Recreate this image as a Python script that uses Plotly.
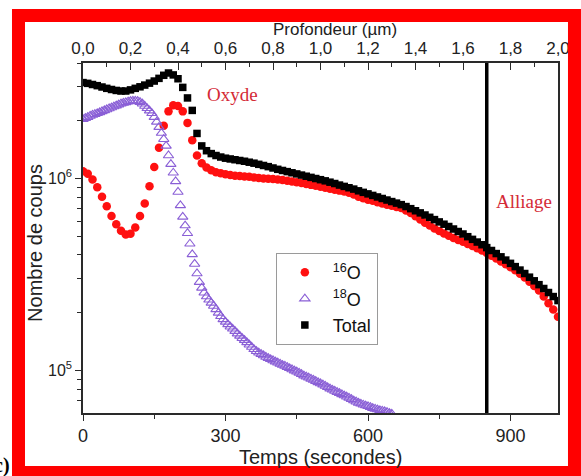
import plotly.graph_objects as go

# ---------------- data ----------------
# time axis (s) for 16O and Total, every 10 s
time_main = list(range(0, 1001, 10))
# log10(counts) for 16O
o16_log10 = [
    6.038, 6.025, 5.995, 5.955, 5.905, 5.855, 5.805, 5.762, 5.728, 5.708,
    5.712, 5.745, 5.805, 5.870, 5.960, 6.060, 6.160, 6.275, 6.350, 6.382,
    6.378, 6.350, 6.290, 6.200, 6.120, 6.080, 6.058, 6.043, 6.033, 6.027,
    6.022, 6.018, 6.015, 6.013, 6.011, 6.009, 6.006, 6.003, 6.000, 5.999,
    5.998, 5.995, 5.992, 5.988, 5.985, 5.981, 5.977, 5.972, 5.967, 5.962,
    5.957, 5.952, 5.947, 5.942, 5.937, 5.932, 5.926, 5.917, 5.905, 5.897,
    5.890, 5.884, 5.877, 5.870, 5.864, 5.858, 5.852, 5.846, 5.834, 5.820,
    5.803, 5.787, 5.770, 5.755, 5.740, 5.727, 5.714, 5.702, 5.690, 5.680,
    5.670, 5.659, 5.648, 5.637, 5.625, 5.612, 5.598, 5.583, 5.568, 5.553,
    5.538, 5.522, 5.504, 5.484, 5.462, 5.440, 5.416, 5.385, 5.350, 5.318,
    5.280,
]
# log10(counts) for Total
total_log10 = [
    6.500, 6.496, 6.490, 6.484, 6.477, 6.470, 6.464, 6.459, 6.456, 6.456,
    6.462, 6.470, 6.478, 6.487, 6.497, 6.508, 6.522, 6.538, 6.550, 6.540,
    6.520, 6.475, 6.420, 6.355, 6.235, 6.170, 6.145, 6.130, 6.120, 6.112,
    6.106, 6.102, 6.098, 6.094, 6.090, 6.085, 6.080, 6.074, 6.068, 6.062,
    6.055, 6.048, 6.042, 6.036, 6.030, 6.024, 6.018, 6.012, 6.006, 6.000,
    5.994, 5.988, 5.981, 5.974, 5.966, 5.959, 5.952, 5.945, 5.936, 5.928,
    5.920, 5.912, 5.904, 5.896, 5.888, 5.880, 5.872, 5.864, 5.854, 5.843,
    5.832, 5.821, 5.810, 5.798, 5.786, 5.774, 5.762, 5.750, 5.737, 5.724,
    5.711, 5.697, 5.683, 5.669, 5.655, 5.640, 5.625, 5.609, 5.592, 5.575,
    5.558, 5.541, 5.523, 5.505, 5.486, 5.467, 5.447, 5.427, 5.406, 5.385,
    5.364,
]
# time axis (s) for 18O, every 5 s
time_o18 = list(range(0, 651, 5))
o18_log10 = [
    6.309, 6.315, 6.320, 6.326, 6.331, 6.335, 6.340, 6.345, 6.350, 6.355,
    6.360, 6.365, 6.370, 6.375, 6.380, 6.385, 6.390, 6.394, 6.397, 6.400,
    6.403, 6.405, 6.405, 6.403, 6.398, 6.390, 6.378, 6.366, 6.354, 6.340,
    6.320, 6.295, 6.268, 6.237, 6.205, 6.170, 6.120, 6.075, 6.030, 5.985,
    5.930, 5.860, 5.800, 5.755, 5.715, 5.660, 5.605, 5.555, 5.505, 5.460,
    5.430, 5.405, 5.385, 5.368, 5.352, 5.336, 5.318, 5.300, 5.282, 5.266,
    5.253, 5.240, 5.228, 5.217, 5.205, 5.192, 5.180, 5.168, 5.158, 5.146,
    5.134, 5.122, 5.110, 5.100, 5.092, 5.085, 5.078, 5.070, 5.064, 5.058,
    5.052, 5.046, 5.040, 5.034, 5.028, 5.023, 5.017, 5.011, 5.005, 4.999,
    4.993, 4.987, 4.980, 4.973, 4.967, 4.962, 4.956, 4.950, 4.944, 4.938,
    4.932, 4.926, 4.919, 4.912, 4.905, 4.899, 4.893, 4.887, 4.881, 4.875,
    4.869, 4.863, 4.857, 4.850, 4.843, 4.837, 4.831, 4.826, 4.821, 4.817,
    4.813, 4.808, 4.803, 4.799, 4.796, 4.792, 4.789, 4.786, 4.782, 4.778,
    4.774,
]

interface_time = 850            # oxide / alloy interface (s)
time_range = [0, 1000]
depth_range = [0, 2.0]          # µm
count_range = [6e4, 4e6]

time_ticks = [0, 300, 600, 900]
time_minor = [150, 450, 750]
depth_ticks = [0.0, 0.2, 0.4, 0.6, 0.8, 1.0, 1.2, 1.4, 1.6, 1.8, 2.0]
depth_labels = ["0,0", "0,2", "0,4", "0,6", "0,8", "1,0", "1,2", "1,4", "1,6", "1,8", "2,0"]
depth_minor = [0.1, 0.3, 0.5, 0.7, 0.9, 1.1, 1.3, 1.5, 1.7, 1.9]
count_ticks = [1e5, 1e6]
count_labels = ["10<sup>5</sup>", "10<sup>6</sup>"]
count_minor = [7e4, 8e4, 9e4, 2e5, 3e5, 4e5, 5e5, 6e5, 7e5, 8e5, 9e5, 2e6, 3e6, 4e6]

# ---------------- figure ----------------
SANS = "Liberation Sans, Arial, sans-serif"
SERIF = "Liberation Serif, Times New Roman, serif"
AX = "#2a2a2a"

o16 = [10 ** v for v in o16_log10]
o18 = [10 ** v for v in o18_log10]
tot = [10 ** v for v in total_log10]

fig = go.Figure()
fig.add_trace(go.Scatter(
    x=time_main, y=o16, mode="markers", name="<sup>16</sup>O",
    marker=dict(symbol="circle", size=8.5, color="#ff1010", line=dict(width=0)),
))
fig.add_trace(go.Scatter(
    x=time_o18, y=o18, mode="markers", name="<sup>18</sup>O",
    marker=dict(symbol="triangle-up-open", size=9, color="#8a5fd6", line=dict(width=1.1)),
))
fig.add_trace(go.Scatter(
    x=time_main, y=tot, mode="markers", name="Total",
    marker=dict(symbol="square", size=7.5, color="#000000", line=dict(width=0)),
))
# helper trace so the top (depth) axis is drawn
fig.add_trace(go.Scatter(
    x=depth_range, y=count_range, xaxis="x2", mode="markers",
    marker=dict(opacity=0), showlegend=False, hoverinfo="skip",
))

fig.update_layout(
    width=581, height=476,
    margin=dict(l=83, r=23, t=63, b=63),
    paper_bgcolor="white", plot_bgcolor="white",
    font=dict(family=SANS, color="#222"),
    showlegend=True,
    legend=dict(
        x=0.406, y=0.457, xanchor="left", yanchor="top",
        bgcolor="white", bordercolor="#9a9a9a", borderwidth=1,
        font=dict(family=SANS, size=18, color="#111"),
        itemwidth=46, tracegroupgap=0,
    ),
    xaxis=dict(
        range=time_range, showgrid=False, zeroline=False,
        showline=True, linecolor=AX, linewidth=1.5,
        tickmode="array", tickvals=time_ticks, ticktext=[str(v) for v in time_ticks],
        ticks="outside", ticklen=6, tickwidth=1.3, tickcolor=AX,
        minor=dict(tickmode="array", tickvals=time_minor, ticks="outside", ticklen=4, tickwidth=1.2, tickcolor=AX),
        tickfont=dict(size=18, family=SANS, color="#222"),
    ),
    xaxis2=dict(
        range=depth_range, overlaying="x", side="top", anchor="y",
        showgrid=False, zeroline=False,
        showline=True, linecolor=AX, linewidth=1.5,
        tickmode="array", tickvals=depth_ticks, ticktext=depth_labels,
        ticks="inside", ticklen=7, tickwidth=1.3, tickcolor=AX,
        minor=dict(tickmode="array", tickvals=depth_minor, ticks="inside", ticklen=4, tickwidth=1.2, tickcolor=AX),
        tickfont=dict(size=17, family=SANS, color="#222"),
    ),
    yaxis=dict(
        type="log", range=[4.77815, 6.60206], showgrid=False, zeroline=False,
        showline=True, linecolor=AX, linewidth=1.5, mirror=True,
        tickmode="array", tickvals=count_ticks, ticktext=count_labels,
        ticks="outside", ticklen=6, tickwidth=1.3, tickcolor=AX,
        minor=dict(tickmode="array", tickvals=count_minor, ticks="outside", ticklen=4, tickwidth=1.2, tickcolor=AX),
        tickfont=dict(size=16, family=SANS, color="#222"),
    ),
)

# interface line
fig.add_shape(type="line", xref="x", yref="paper", x0=interface_time, x1=interface_time,
              y0=0, y1=1, line=dict(color="black", width=3.5))

# red frame around the figure
fig.add_shape(type="rect", xref="paper", yref="paper",
              x0=-0.1358, x1=1.0347, y0=-0.170, y1=1.1357,
              line=dict(color="#ff0000", width=13), fillcolor="rgba(0,0,0,0)", layer="above")

# titles and labels
fig.add_annotation(text="Temps (secondes)", xref="paper", yref="paper", x=0.5, y=-0.1257,
                   showarrow=False, font=dict(size=20, family=SANS, color="#222"),
                   xanchor="center", yanchor="middle")
fig.add_annotation(text="Profondeur (µm)", xref="paper", yref="paper", x=0.5305, y=1.097,
                   showarrow=False, font=dict(size=17, family=SANS, color="#222"),
                   xanchor="center", yanchor="middle")
fig.add_annotation(text="Nombre de coups", xref="paper", yref="paper", x=-0.101, y=0.486,
                   showarrow=False, textangle=-90, font=dict(size=20, family=SANS, color="#222"),
                   xanchor="center", yanchor="middle")
fig.add_annotation(text="Oxyde", xref="paper", yref="paper", x=0.3137, y=0.911,
                   showarrow=False, font=dict(size=19, family=SERIF, color="#d42a36"),
                   xanchor="center", yanchor="middle")
fig.add_annotation(text="Alliage", xref="paper", yref="paper", x=0.928, y=0.6057,
                   showarrow=False, font=dict(size=19, family=SERIF, color="#d42a36"),
                   xanchor="center", yanchor="middle")
fig.add_annotation(text="<b>c)</b>", xref="paper", yref="paper", x=-0.1495, y=-0.151,
                   showarrow=False, font=dict(size=20, family=SERIF, color="black"),
                   xanchor="right", yanchor="middle")

fig.write_html("out.html", config={"displayModeBar": False},
               post_script="document.body.style.margin='0';document.body.style.overflow='hidden';")
